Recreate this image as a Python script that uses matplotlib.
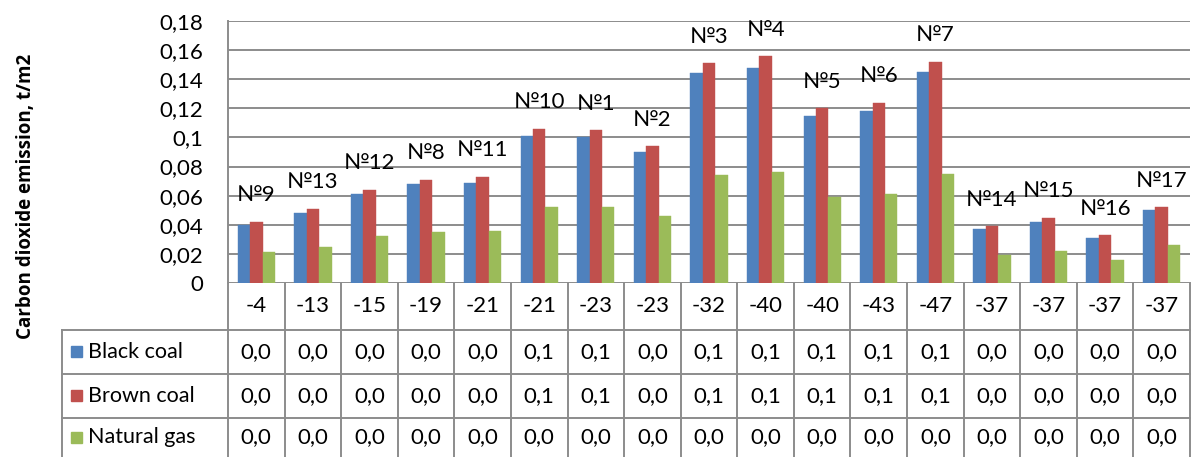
import math
import matplotlib
matplotlib.use("Agg")
import matplotlib.pyplot as plt
import matplotlib.transforms as mtransforms
import numpy as np

plt.rcParams['font.family'] = ['Lato', 'DejaVu Sans']

# Design temperature of each site and its label
temperatures = ["-4", "-13", "-15", "-19", "-21", "-21", "-23", "-23", "-32",
                "-40", "-40", "-43", "-47", "-37", "-37", "-37", "-37"]
site_labels = ["№9", "№13", "№12", "№8", "№11", "№10", "№1", "№2", "№3",
               "№4", "№5", "№6", "№7", "№14", "№15", "№16", "№17"]

# Carbon dioxide emission, t/m2
black_coal = [0.040, 0.048, 0.061, 0.068, 0.069, 0.101, 0.100, 0.090, 0.144,
              0.148, 0.115, 0.118, 0.145, 0.037, 0.042, 0.031, 0.050]
brown_coal = [0.042, 0.051, 0.064, 0.071, 0.073, 0.106, 0.105, 0.094, 0.151,
              0.156, 0.120, 0.124, 0.152, 0.039, 0.045, 0.033, 0.052]
natural_gas = [0.021, 0.025, 0.032, 0.035, 0.036, 0.052, 0.052, 0.046, 0.074,
               0.076, 0.059, 0.061, 0.075, 0.019, 0.022, 0.016, 0.026]

series_names = ["Black coal", "Brown coal", "Natural gas"]
series_values = [black_coal, brown_coal, natural_gas]
series_colors = ["#4F81BD", "#C0504D", "#9BBB59"]

W, H = 1193, 457
fig = plt.figure(figsize=(W / 100, H / 100), dpi=100)

# main plot area (pixel geometry)
left_px, right_px, top_px, base_px = 228, 1190, 21, 283
ax = fig.add_axes([left_px / W, 1 - base_px / H,
                   (right_px - left_px) / W, (base_px - top_px) / H])

n = len(temperatures)
x = np.arange(n)
bw = 0.22
grid_col = "#8C8C8C"
for k, (vals, col) in enumerate(zip(series_values, series_colors)):
    ax.bar(x + (k - 1) * bw, vals, width=bw, color=col, zorder=3,
           edgecolor=col, linewidth=0.3)

ax.set_xlim(-0.5, n - 0.5)
ax.set_ylim(0, 0.18)
yt = np.arange(0, 0.181, 0.02)
ax.set_yticks(yt)
ax.set_yticklabels(["0" if v == 0 else ("%g" % round(v, 2)).replace(".", ",")
                    for v in yt], fontsize=16)
ax.tick_params(axis="y", length=0, pad=18)
ax.set_xticks([])
ax.grid(axis="y", color=grid_col, linewidth=1.4, zorder=0)
for s in ["top", "right", "bottom"]:
    ax.spines[s].set_visible(False)
ax.spines["left"].set_color(grid_col)
ax.spines["left"].set_linewidth(1.4)

# site labels above each group
for i, lab in enumerate(site_labels):
    ax.annotate(lab, (x[i], brown_coal[i]), xytext=(0, 19),
                textcoords="offset points", ha="center", va="center",
                fontsize=16, zorder=4)

ax.set_ylabel("Carbon dioxide emission, t/m2", fontsize=13.5,
              fontweight="bold", family=["Open Sans", "DejaVu Sans"])
ax.yaxis.set_label_coords(-0.2, 0.33)

# data table below the plot
tab = fig.add_axes([0, 0, 1, (H - base_px) / H])
tab.set_xlim(0, W)
tab.set_ylim(H, base_px)
tab.axis("off")
tr = mtransforms.blended_transform_factory(ax.transData, tab.transData)

row_edges = [283, 330, 374, 418, 457]
legend_left = 62
lc = "#8C8C8C"
lw = 1.4
# vertical lines between columns
for b in np.arange(-0.5, n, 1.0):
    tab.plot([b, b], [row_edges[0], row_edges[-1]], color=lc, lw=lw,
             transform=tr, clip_on=False)
# horizontal lines
for yy in row_edges[1:4]:
    tab.plot([legend_left, right_px], [yy, yy], color=lc, lw=lw)
tab.plot([legend_left, legend_left], [row_edges[1], row_edges[-1]],
         color=lc, lw=lw)

# header row: temperatures
for i, t in enumerate(temperatures):
    tab.text(x[i], (row_edges[0] + row_edges[1]) / 2, t, transform=tr,
             ha="center", va="center", fontsize=16)


def fmt(v):
    return ("%.1f" % (math.floor(v * 10) / 10)).replace(".", ",")


for r, (name, vals, col) in enumerate(zip(series_names, series_values,
                                          series_colors)):
    yc = (row_edges[r + 1] + row_edges[r + 2]) / 2
    tab.add_patch(plt.Rectangle((71, yc - 5.5), 11, 11, color=col))
    tab.text(88, yc, name, ha="left", va="center", fontsize=15.5)
    for i, v in enumerate(vals):
        tab.text(x[i], yc, fmt(v), transform=tr, ha="center", va="center",
                 fontsize=16)

fig.savefig("out.png", dpi=100)
